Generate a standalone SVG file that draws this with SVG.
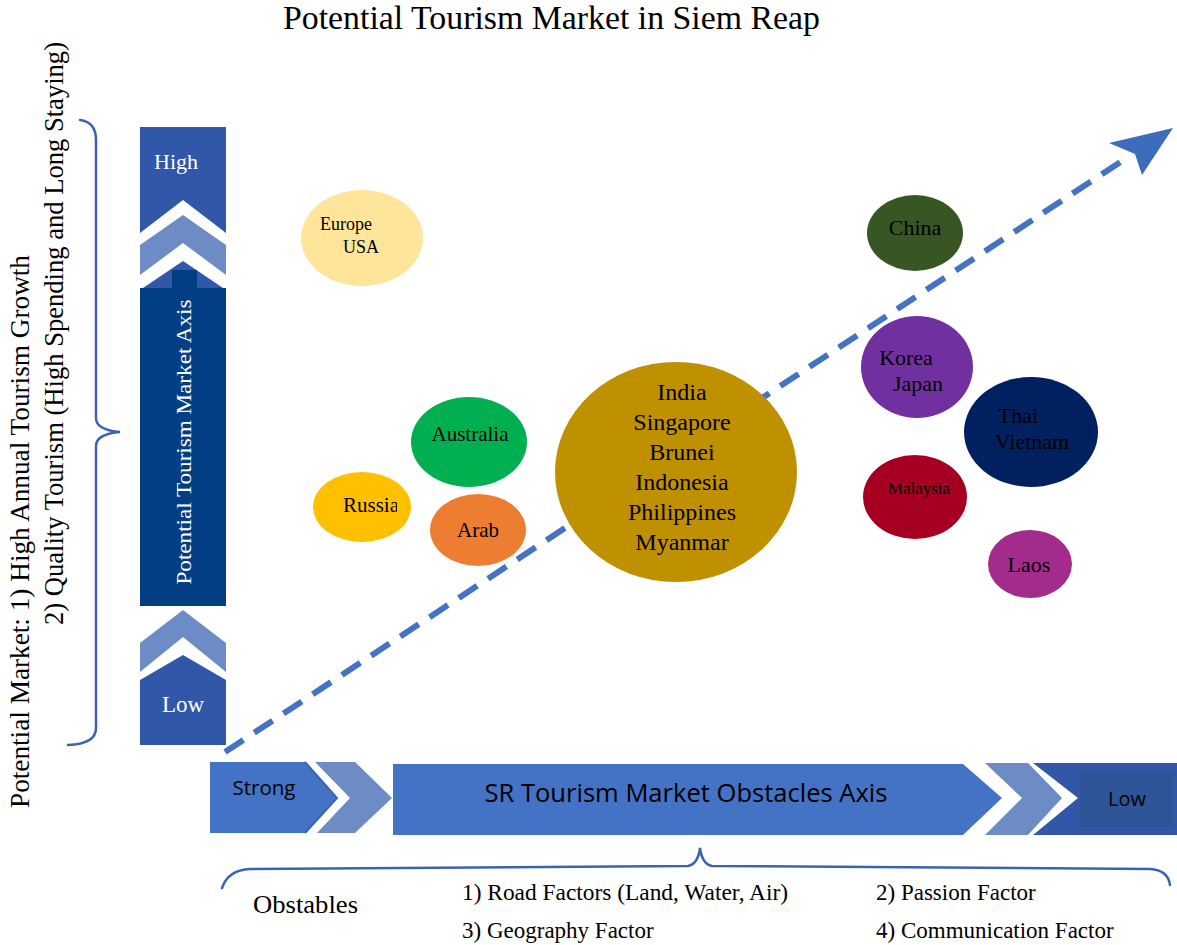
<svg xmlns="http://www.w3.org/2000/svg" width="1177" height="945" viewBox="0 0 1177 945">
<style>
.serif{font-family:"Liberation Serif","Times New Roman",serif;}
.sans{font-family:"Open Sans","Liberation Sans",Arial,sans-serif;}
.dark{fill:#000;}
.wht{fill:#fff;}
.brace{fill:none;stroke:#3d62b0;stroke-width:2.5;stroke-linecap:round;}
</style>
<defs>
<clipPath id="russiaClip"><rect x="300" y="470" width="97" height="80"/></clipPath>
</defs>
<rect width="1177" height="945" fill="#fff"/>
<text class="serif dark" x="283" y="29" font-size="33" textLength="537" lengthAdjust="spacingAndGlyphs">Potential Tourism Market in Siem Reap</text>

<g id="left-label">
<path class="brace" d="M80,120 Q96,122 96,140 L96,418 Q96,430 120,432 Q96,434 96,446 L96,728 Q96,744 68,745"/>
<text class="serif dark" font-size="27" textLength="553" lengthAdjust="spacingAndGlyphs" transform="translate(29,808) rotate(-90)">Potential Market: 1) High Annual Tourism Growth</text>
<text class="serif dark" font-size="27" textLength="583" lengthAdjust="spacingAndGlyphs" transform="translate(63,625) rotate(-90)">2) Quality Tourism (High Spending and Long Staying)</text>
</g>

<g id="vertical-axis">
<polygon points="140,127 226,127 226,233 183,200 140,233" fill="#3157a8"/>
<text class="serif wht" x="176" y="169" font-size="22" text-anchor="middle">High</text>
<polygon points="183,215 226,245 226,275 183,243 140,275 140,245" fill="#6d8cc6"/>
<polygon points="140,290 183,261 226,290" fill="#3157a8"/>
<rect x="172" y="270" width="25" height="22" fill="#023e84"/>
<rect x="140" y="288" width="86" height="318" fill="#023e84"/>
<text class="serif wht" font-size="22" text-anchor="middle" textLength="285" lengthAdjust="spacingAndGlyphs" transform="translate(191,442) rotate(-90)">Potential Tourism Market Axis</text>
<polygon points="183,610 226,643 226,672 183,637 140,672 140,643" fill="#6d8cc6"/>
<polygon points="140,680 183,655 226,680 226,745 140,745" fill="#3157a8"/>
<text class="serif wht" x="183" y="712" font-size="23" text-anchor="middle">Low</text>
</g>

<g id="horizontal-axis">
<polygon points="210,762 305,762 337,798 305,833 210,833" fill="#4472c4"/>
<polyline points="305,762 337,798 305,833" fill="none" stroke="#3a64b0" stroke-width="2"/>
<text class="sans dark" x="264" y="795" font-size="20" text-anchor="middle" textLength="63" lengthAdjust="spacingAndGlyphs">Strong</text>
<polygon points="315,762 355,762 392,798 355,833 317,833 350,798" fill="#6d8cc6"/>
<polygon points="393,764 963,764 1002,798 963,835 393,835" fill="#4472c4"/>
<text class="sans dark" x="686" y="802" font-size="25" text-anchor="middle" textLength="403" lengthAdjust="spacingAndGlyphs">SR Tourism Market Obstacles Axis</text>
<polygon points="985,763 1028,763 1062,798 1028,835 985,835 1022,798" fill="#6d8cc6"/>
<polygon points="1033,763 1177,763 1177,835 1033,835 1078,798" fill="#3157a8"/>
<rect x="1080" y="772" width="93" height="55" fill="#2d5597"/>
<text class="sans dark" x="1127" y="806" font-size="20" text-anchor="middle">Low</text>
</g>

<g id="connectors">
<line x1="225" y1="752" x2="1128" y2="157" stroke="#4472c4" stroke-width="6" stroke-dasharray="22,13"/>
<polygon points="1173,128 1142,175 1135,154 1109,143" fill="#3e6cbd"/>
</g>

<g id="europe-usa">
<ellipse cx="362" cy="238" rx="61" ry="48" fill="#fee599"/>
<text class="serif dark" x="346" y="230" font-size="18" text-anchor="middle">Europe</text>
<text class="serif dark" x="361" y="253" font-size="18" text-anchor="middle">USA</text>
</g>
<g id="australia">
<ellipse cx="469" cy="442" rx="58" ry="45" fill="#00b050"/>
<text class="serif dark" x="470" y="441" font-size="21" text-anchor="middle">Australia</text>
</g>
<g id="russia">
<ellipse cx="362" cy="507" rx="49" ry="35" fill="#ffc000"/>
<text class="serif dark" x="371" y="512" font-size="21" text-anchor="middle" clip-path="url(#russiaClip)">Russia</text>
</g>
<g id="arab">
<ellipse cx="478" cy="530" rx="48" ry="36" fill="#ed7d31"/>
<text class="serif dark" x="478" y="537" font-size="21" text-anchor="middle">Arab</text>
</g>
<g id="asean">
<ellipse cx="676" cy="472" rx="121" ry="110" fill="#bf9000"/>
<g class="serif dark" font-size="24" text-anchor="middle">
<text x="682" y="400">India</text>
<text x="682" y="430">Singapore</text>
<text x="682" y="460">Brunei</text>
<text x="682" y="490">Indonesia</text>
<text x="682" y="520">Philippines</text>
<text x="682" y="550">Myanmar</text>
</g>
</g>
<g id="china">
<ellipse cx="915" cy="233" rx="48" ry="38" fill="#375623"/>
<text class="serif dark" x="915" y="235" font-size="22" text-anchor="middle">China</text>
</g>
<g id="korea-japan">
<ellipse cx="917" cy="367" rx="56" ry="51" fill="#7030a0"/>
<text class="serif dark" x="906" y="365" font-size="22" text-anchor="middle">Korea</text>
<text class="serif dark" x="918" y="391" font-size="22" text-anchor="middle">Japan</text>
</g>
<g id="thai-vietnam">
<ellipse cx="1031" cy="432" rx="67" ry="55" fill="#002060"/>
<text class="serif dark" x="1018" y="423" font-size="22" text-anchor="middle">Thai</text>
<text class="serif dark" x="1032" y="449" font-size="22" text-anchor="middle">Vietnam</text>
</g>
<g id="malaysia">
<ellipse cx="915" cy="497" rx="52" ry="42" fill="#a50021"/>
<text class="serif dark" x="919" y="494" font-size="17" text-anchor="middle">Malaysia</text>
</g>
<g id="laos">
<ellipse cx="1030" cy="564" rx="42" ry="34" fill="#a32b8c"/>
<text class="serif dark" x="1029" y="572" font-size="22" text-anchor="middle">Laos</text>
</g>

<g id="obstacles">
<path class="brace" d="M222,888 Q228,870 250,869 L688,866 Q698,864 700,848 Q702,864 712,866 L1150,869 Q1168,870 1170,885"/>
<text class="serif dark" x="253" y="913" font-size="26" textLength="105" lengthAdjust="spacingAndGlyphs">Obstables</text>
<text class="serif dark" x="462" y="900" font-size="23" textLength="326" lengthAdjust="spacingAndGlyphs">1) Road Factors (Land, Water, Air)</text>
<text class="serif dark" x="876" y="900" font-size="23">2) Passion Factor</text>
<text class="serif dark" x="462" y="938" font-size="23">3) Geography Factor</text>
<text class="serif dark" x="876" y="938" font-size="23">4) Communication Factor</text>
</g>
</svg>
